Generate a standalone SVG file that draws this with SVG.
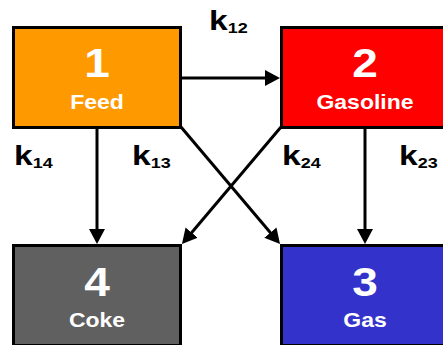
<svg xmlns="http://www.w3.org/2000/svg" width="443" height="345" viewBox="0 0 443 345">
<style>
.box{stroke:#000;stroke-width:3}
.num{font-family:"Liberation Sans",Arial,sans-serif;font-weight:bold;font-size:40px;fill:#fff;text-anchor:middle}
.lbl{font-family:"Liberation Sans",Arial,sans-serif;font-weight:bold;font-size:20px;fill:#fff;text-anchor:middle}
.k{font-family:"Liberation Sans",Arial,sans-serif;font-weight:bold;font-size:28px;fill:#000}
.sub{font-size:15px}
.conn{stroke:#000;stroke-width:3;fill:none;marker-end:url(#ah)}
</style>
<defs>
<marker id="ah" viewBox="0 0 15 16" refX="10" refY="8" markerWidth="15" markerHeight="16" markerUnits="userSpaceOnUse" orient="auto">
<path d="M0,0 L15,8 L0,16 z" fill="#000"/>
</marker>
</defs>
<rect width="443" height="345" fill="#fff"/>
<g id="connectors">
<path class="conn" d="M182,78 L275,78"/>
<path class="conn" d="M97,129 L97,239"/>
<path class="conn" d="M365,129 L365,239"/>
<path class="conn" d="M181,127 L276.8,240.2"/>
<path class="conn" d="M281,127 L185.2,240.2"/>
</g>
<g id="node1">
<rect class="box" x="13.5" y="27.5" width="167" height="100" fill="#FF9900"/>
<text class="num" transform="translate(97,77) scale(1.15,1)">1</text>
<text class="lbl" transform="translate(97,108.5) scale(1.15,1)">Feed</text>
</g>
<g id="node2">
<rect class="box" x="281.5" y="27.5" width="167" height="100" fill="#FF0000"/>
<text class="num" transform="translate(365,77) scale(1.15,1)">2</text>
<text class="lbl" transform="translate(365,108.5) scale(1.15,1)">Gasoline</text>
</g>
<g id="node4">
<rect class="box" x="13.5" y="245.5" width="167" height="100" fill="#606060"/>
<text class="num" transform="translate(97,295.5) scale(1.15,1)">4</text>
<text class="lbl" transform="translate(97,327) scale(1.15,1)">Coke</text>
</g>
<g id="node3">
<rect class="box" x="281.5" y="245.5" width="167" height="100" fill="#3333CC"/>
<text class="num" transform="translate(365,295.5) scale(1.15,1)">3</text>
<text class="lbl" transform="translate(365,327) scale(1.15,1)">Gas</text>
</g>
<g id="labels">
<text class="k" transform="translate(209,30) scale(1.2,1)">k<tspan class="sub" dy="3">12</tspan></text>
<text class="k" transform="translate(14,165) scale(1.2,1)">k<tspan class="sub" dy="3">14</tspan></text>
<text class="k" transform="translate(132,165) scale(1.2,1)">k<tspan class="sub" dy="3">13</tspan></text>
<text class="k" transform="translate(282,165) scale(1.2,1)">k<tspan class="sub" dy="3">24</tspan></text>
<text class="k" transform="translate(399,165) scale(1.2,1)">k<tspan class="sub" dy="3">23</tspan></text>
</g>
</svg>
